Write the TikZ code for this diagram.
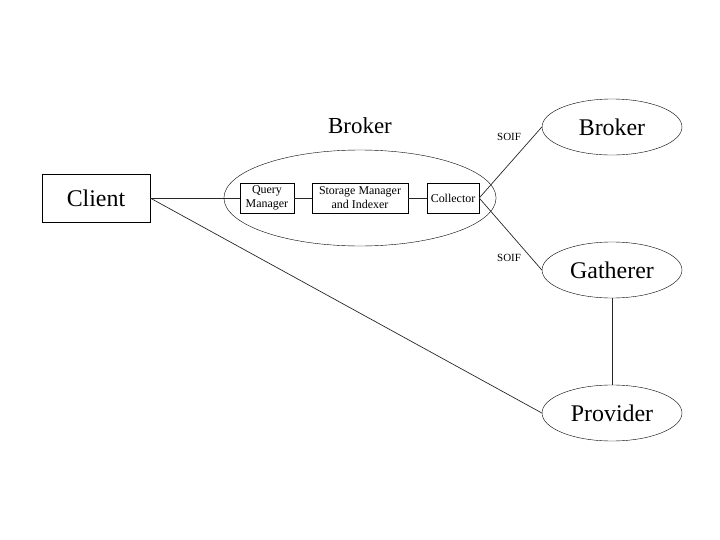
\documentclass[tikz,border=0pt]{standalone}
\usepackage{fontspec}
\setmainfont{Liberation Serif}
\usetikzlibrary{shapes.geometric}
\tikzset{
  part/.style={draw, inner sep=0pt, minimum height=0.417in, align=center, font=\fontsize{12}{14}\selectfont},
  oval/.style={draw, ellipse, inner sep=0pt, minimum width=1.944in, minimum height=0.778in, font=\fontsize{24}{26}\selectfont},
  wire/.style={black!85, line width=0.7pt}
}

\begin{document}
\begin{tikzpicture}[x=1in,y=1in]
\useasboundingbox (0,0) rectangle (10,-7.5);
\node[draw, minimum width=1.5in, minimum height=0.667in, font=\fontsize{24}{26}\selectfont] (client) at (1.333,-2.75) {Client};
\node[draw, ellipse, minimum width=3.78in, minimum height=1.333in] (hub) at (5,-2.75) {};
\node[font=\fontsize{23}{25}\selectfont] (hubname) at (5,-1.75) {Broker};
\node[part, minimum width=0.75in] (query) at (3.708,-2.75) {Query\\Manager};
\node[part, minimum width=1.333in] (store) at (5,-2.75) {Storage Manager\\and Indexer};
\node[part, minimum width=0.722in] (collect) at (6.292,-2.75) {Collector};
\node[oval] (broker) at (8.5,-1.764) {Broker};
\node[oval] (gather) at (8.5,-3.75) {Gatherer};
\node[oval] (provider) at (8.5,-5.736) {Provider};
\node[font=\fontsize{11}{12}\selectfont] (soifa) at (7.07,-1.90) {SOIF};
\node[font=\fontsize{11}{12}\selectfont] (soifb) at (7.07,-3.58) {SOIF};
\draw[wire] (client.east) -- (query.west);
\draw[wire] (query.east) -- (store.west);
\draw[wire] (store.east) -- (collect.west);
\draw[wire] (collect.east) -- (broker.west);
\draw[wire] (collect.east) -- (gather.west);
\draw[wire] (gather) -- (provider);
\draw[wire] (client.east) -- (provider.west);
\end{tikzpicture}
\end{document}
